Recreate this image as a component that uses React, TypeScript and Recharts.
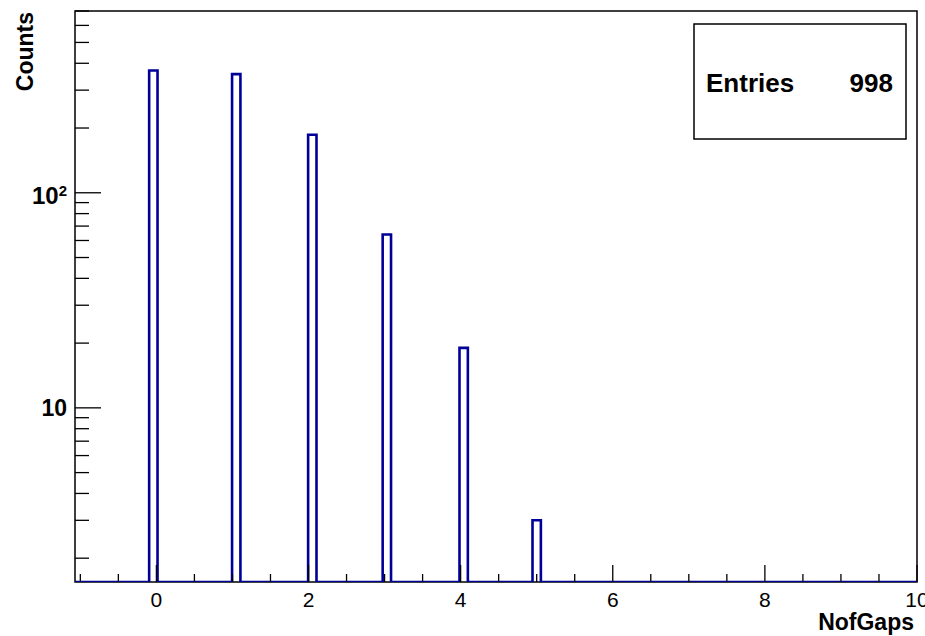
import React from 'react';
import { ComposedChart, Line, XAxis, YAxis, ReferenceArea } from 'recharts';

// NofGaps histogram, log y
const counts = [370, 356, 186, 64, 19, 3];
const binLow = [-0.095, 0.995, 1.995, 2.975, 3.985, 4.945];
const binWidth = 0.11;
const entries = 998;

const xRange = [-1.07, 10];
const yRange = [1.55, 700];

const xTicks = [-1, -0.5, 0, 0.5, 1, 1.5, 2, 2.5, 3, 3.5, 4, 4.5, 5, 5.5, 6, 6.5, 7, 7.5, 8, 8.5, 9, 9.5, 10];
const xMajorTicks = [0, 2, 4, 6, 8, 10];
const xTickLabels = ['0', '2', '4', '6', '8', '10'];

const yTicks = [2, 3, 4, 5, 6, 7, 8, 9, 10, 20, 30, 40, 50, 60, 70, 80, 90, 100, 200, 300, 400, 500, 600, 700];
const yMajorTicks = [10, 100];
const yLabelBase = ['10', '10'];
const yLabelExp = ['', '2'];

const FONT = '"Liberation Sans", Arial, Helvetica, sans-serif';
const HIST = '#000099';

// step outline, empty bins sit on the bottom of the frame
const outline: { x: number; y: number }[] = [{ x: xRange[0], y: yRange[0] }];
binLow.forEach((lo, i) => {
  outline.push({ x: lo, y: counts[i] });
  outline.push({ x: lo + binWidth, y: yRange[0] });
});
outline.push({ x: xRange[1], y: yRange[0] });

const XTick = (p: any) => {
  const { x, y, payload } = p;
  const i = xMajorTicks.indexOf(payload.value);
  return (
    <g>
      <line x1={x} x2={x} y1={y} y2={y - (i >= 0 ? 17 : 8)} stroke="#000" strokeWidth={1.3} />
      {i >= 0 && (
        <text x={x} y={y + 25} textAnchor="middle" fontFamily={FONT} fontSize={21} fill="#000">
          {xTickLabels[i]}
        </text>
      )}
    </g>
  );
};

const YTick = (p: any) => {
  const { x, y, payload } = p;
  const i = yMajorTicks.indexOf(payload.value);
  const exp = i >= 0 ? yLabelExp[i] : '';
  return (
    <g>
      <line x1={x} x2={x + (i >= 0 ? 26 : 14)} y1={y} y2={y} stroke="#000" strokeWidth={1.3} />
      {i >= 0 && (
        <text x={x - 8} y={y + (exp ? 11 : 8.5)} textAnchor="end" fontFamily={FONT} fontWeight="bold" fontSize={exp ? 24 : 23} fill="#000">
          {yLabelBase[i]}
          {exp && <tspan dy={-8} fontSize={15}>{exp}</tspan>}
        </text>
      )}
    </g>
  );
};

export default function App() {
  return (
    <div style={{ position: 'absolute', left: 0, top: 0, width: 925, height: 636, background: '#fff' }}>
      <ComposedChart width={925} height={636} data={outline} margin={{ top: 11, right: 8, bottom: 0, left: 0 }}>
        <XAxis
          dataKey="x"
          type="number"
          domain={xRange}
          allowDataOverflow
          ticks={xTicks}
          interval={0}
          tick={(p: any) => <XTick {...p} />}
          tickLine={false}
          axisLine={false}
          tickSize={0}
          tickMargin={0}
          height={54}
        />
        <YAxis
          type="number"
          scale="log"
          domain={yRange}
          allowDataOverflow
          ticks={yTicks}
          interval={0}
          tick={(p: any) => <YTick {...p} />}
          tickLine={false}
          axisLine={false}
          tickSize={0}
          tickMargin={0}
          width={75}
        />
        <ReferenceArea
          x1={xRange[0]}
          x2={xRange[1]}
          y1={yRange[0]}
          y2={yRange[1]}
          fill="none"
          stroke="#000"
          strokeWidth={1.5}
          fillOpacity={0}
        />
        <Line
          dataKey="y"
          type="stepAfter"
          stroke={HIST}
          strokeWidth={2.6}
          dot={false}
          activeDot={false}
          isAnimationActive={false}
        />
      </ComposedChart>
      <svg width={925} height={636} style={{ position: 'absolute', left: 0, top: 0, pointerEvents: 'none' }}>
        <text transform="translate(33,12) rotate(-90)" textAnchor="end" fontFamily={FONT} fontWeight="bold" fontSize={23} fill="#000">
          Counts
        </text>
        <text x={914} y={630} textAnchor="end" fontFamily={FONT} fontWeight="bold" fontSize={23} fill="#000">
          NofGaps
        </text>
        <rect x={694} y={24} width={212} height={115} fill="#fff" stroke="#000" strokeWidth={1.5} />
        <text x={706} y={92} fontFamily={FONT} fontWeight="bold" fontSize={26} fill="#000">
          Entries
        </text>
        <text x={893} y={92} textAnchor="end" fontFamily={FONT} fontWeight="bold" fontSize={26} fill="#000">
          {entries}
        </text>
      </svg>
    </div>
  );
}
